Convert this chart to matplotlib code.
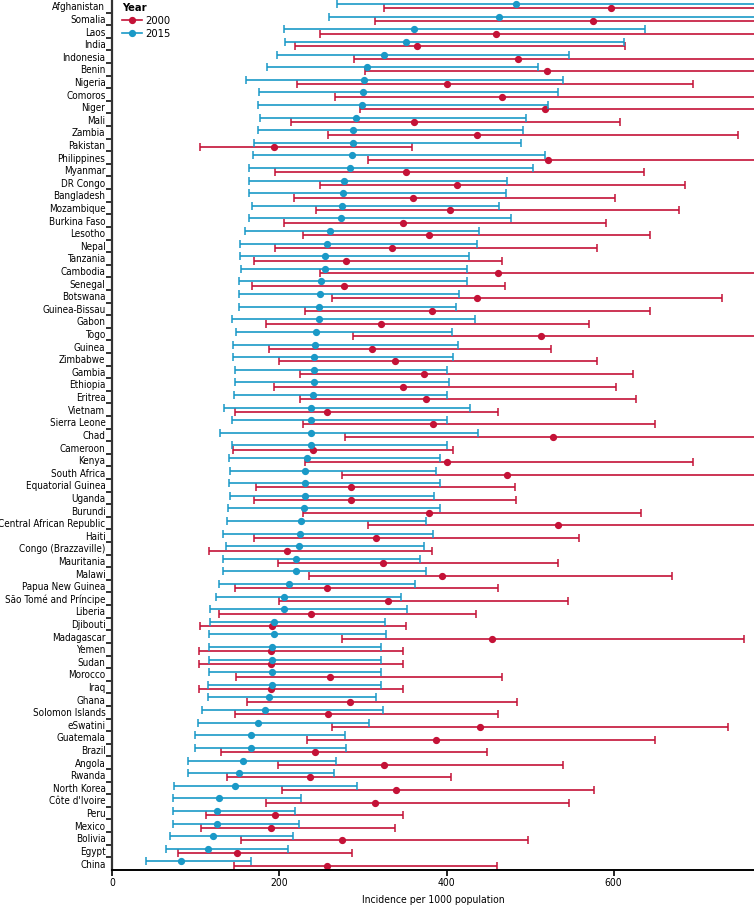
import matplotlib
matplotlib.use("Agg")
import matplotlib.pyplot as plt
from matplotlib.lines import Line2D
import numpy as np

plt.rcParams["font.family"] = ["DejaVu Sans"]
plt.rcParams["font.stretch"] = "condensed"

countries = ["Afghanistan", "Somalia", "Laos", "India", "Indonesia", "Benin", "Nigeria",
             "Comoros", "Niger", "Mali", "Zambia", "Pakistan", "Philippines", "Myanmar",
             "DR Congo", "Bangladesh", "Mozambique", "Burkina Faso", "Lesotho", "Nepal",
             "Tanzania", "Cambodia", "Senegal", "Botswana", "Guinea-Bissau", "Gabon", "Togo",
             "Guinea", "Zimbabwe", "Gambia", "Ethiopia", "Eritrea", "Vietnam", "Sierra Leone",
             "Chad", "Cameroon", "Kenya", "South Africa", "Equatorial Guinea", "Uganda",
             "Burundi", "Central African Republic", "Haiti", "Congo (Brazzaville)",
             "Mauritania", "Malawi", "Papua New Guinea", "São Tomé and Príncipe", "Liberia",
             "Djibouti", "Madagascar", "Yemen", "Sudan", "Morocco", "Iraq", "Ghana",
             "Solomon Islands", "eSwatini", "Guatemala", "Brazil", "Angola", "Rwanda",
             "North Korea", "Côte d'Ivoire", "Peru", "Mexico", "Bolivia", "Egypt", "China"]

# 2015 estimates
val_2015 = [483, 463, 361, 351, 325, 305, 301, 300, 299, 292, 288, 288, 287, 285,
            277, 276, 275, 274, 261, 257, 254, 254, 250, 248, 247, 247, 244, 243,
            241, 241, 241, 240, 238, 238, 238, 238, 233, 231, 231, 230, 229, 226,
            225, 224, 220, 220, 211, 205, 205, 194, 193, 191, 191, 191, 191, 188,
            183, 174, 166, 166, 156, 152, 147, 128, 125, 125, 121, 115, 82]
low_2015 = [269, 259, 206, 207, 197, 185, 160, 175, 174, 177, 174, 170, 168, 163,
            164, 164, 167, 163, 159, 153, 153, 154, 151, 152, 152, 143, 148, 145,
            145, 147, 147, 146, 134, 143, 129, 143, 140, 141, 140, 141, 138, 137,
            133, 136, 133, 132, 128, 124, 117, 117, 116, 116, 116, 116, 114, 114,
            107, 102, 99, 99, 91, 90, 74, 73, 72, 72, 69, 64, 40]
high_2015 = [800, 800, 638, 613, 546, 510, 539, 533, 522, 495, 491, 489, 518, 503,
             472, 471, 463, 477, 439, 437, 427, 424, 424, 415, 411, 434, 407, 414,
             408, 401, 403, 401, 428, 401, 438, 401, 392, 387, 392, 385, 392, 376,
             384, 373, 368, 376, 362, 346, 353, 326, 328, 322, 321, 322, 322, 316,
             324, 307, 279, 280, 268, 265, 293, 226, 219, 223, 216, 210, 166]

# 2000 estimates
val_2000 = [597, 575, 459, 365, 486, 520, 400, 466, 518, 361, 437, 194, 521, 352,
            412, 360, 404, 348, 379, 335, 280, 461, 277, 436, 383, 322, 513, 311,
            338, 373, 348, 375, 257, 384, 528, 240, 401, 472, 286, 286, 379, 533,
            316, 209, 324, 394, 257, 330, 238, 191, 455, 190, 190, 261, 190, 285,
            258, 440, 387, 243, 325, 236, 340, 314, 195, 190, 275, 149, 257]
low_2000 = [325, 314, 248, 219, 289, 302, 221, 267, 296, 214, 258, 105, 306, 195,
            248, 218, 244, 206, 228, 195, 170, 248, 167, 263, 230, 184, 288, 187,
            199, 225, 193, 225, 147, 228, 279, 144, 230, 275, 172, 170, 228, 306,
            169, 116, 198, 235, 147, 200, 128, 105, 275, 104, 104, 148, 104, 161,
            147, 263, 233, 130, 198, 137, 203, 184, 112, 106, 154, 78, 146]
high_2000 = [800, 800, 800, 614, 800, 800, 695, 800, 800, 608, 749, 359, 800, 636,
             686, 602, 678, 591, 643, 580, 466, 800, 470, 730, 644, 571, 800, 525,
             580, 623, 603, 627, 461, 650, 800, 408, 695, 800, 482, 483, 633, 800,
             559, 383, 534, 670, 462, 545, 435, 352, 756, 348, 348, 466, 348, 484,
             461, 737, 650, 449, 539, 405, 576, 547, 348, 338, 497, 287, 460]

red = "#c41237"
blue = "#1a99c7"

y = np.arange(len(countries))

fig = plt.figure(figsize=(7.54, 9.07), dpi=100)
ax = fig.add_axes([0.149, 0.041, 0.851, 0.959])

v15 = np.array(val_2015)
v00 = np.array(val_2000)
ax.errorbar(v00, y + 0.17,
            xerr=[v00 - np.array(low_2000), np.array(high_2000) - v00],
            fmt="o", color=red, ms=4.2, elinewidth=1.2, capsize=3, capthick=1.1,
            zorder=2)
ax.errorbar(v15, y - 0.17,
            xerr=[v15 - np.array(low_2015), np.array(high_2015) - v15],
            fmt="o", color=blue, ms=4.2, elinewidth=1.2, capsize=3, capthick=1.1,
            zorder=3)

ax.set_xlim(0, 768)
ax.set_ylim(len(countries) - 0.5, -0.5)
ax.set_yticks(y)
ax.set_yticklabels(countries, fontsize=7.1)
ax.tick_params(axis="y", which="major", length=0, pad=5)
ax.set_yticks(y[:-1] + 0.5, minor=True)
ax.tick_params(axis="y", which="minor", length=4, width=1.4, color="#333333")
ax.set_xticks([0, 200, 400, 600])
ax.tick_params(axis="x", labelsize=7.5, length=4, width=1.2, pad=2)
ax.set_xlabel("Incidence per 1000 population", fontsize=7.5, labelpad=5)

for s in ["top", "right"]:
    ax.spines[s].set_visible(False)
ax.spines["left"].set_linewidth(1.6)
ax.spines["left"].set_color("#333333")
ax.spines["bottom"].set_linewidth(1.4)

handles = [Line2D([], [], color=red, marker="o", ms=4.2, lw=1.2),
           Line2D([], [], color=blue, marker="o", ms=4.2, lw=1.2)]
leg = ax.legend(handles, ["2000", "2015"], title="Year", loc="upper left",
                bbox_to_anchor=(0.01, 1.0), frameon=False, fontsize=8,
                title_fontsize=8, handlelength=1.8, handletextpad=0.3,
                labelspacing=0.25, borderaxespad=0.2, borderpad=0.1)
leg._legend_box.align = "left"
leg.get_title().set_fontweight("bold")

fig.savefig("out.png", dpi=100)
